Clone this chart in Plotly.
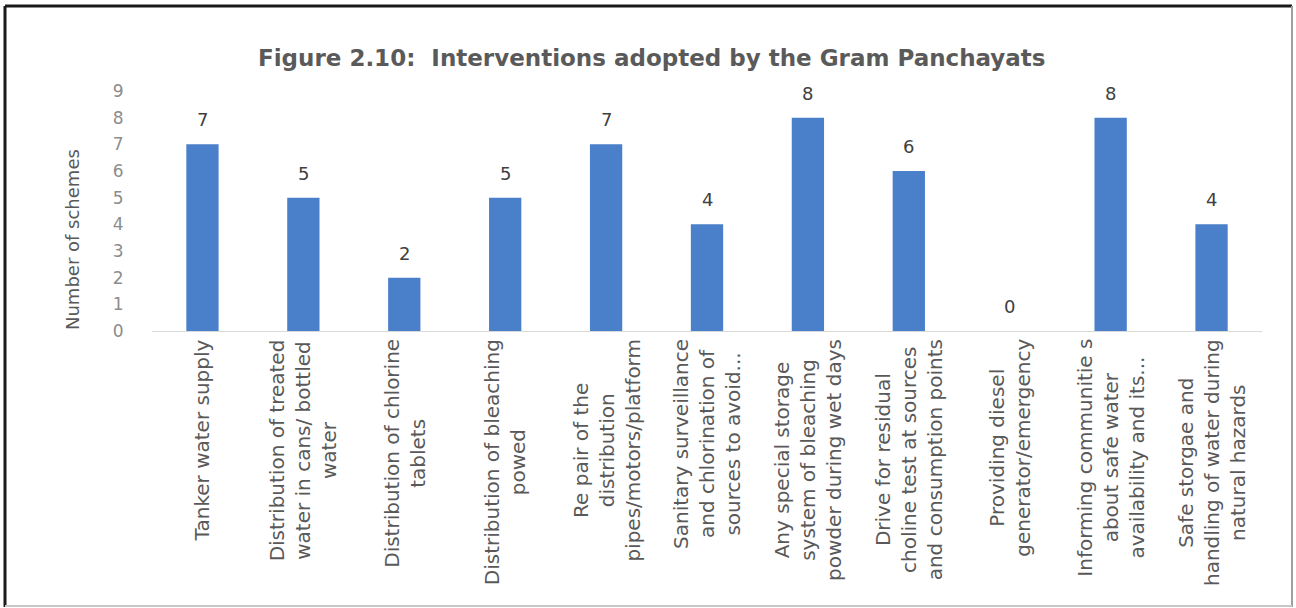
import plotly.graph_objects as go

categories = [
    "Tanker water supply",
    "Distribution of treated<br>water in cans/ bottled<br>water",
    "Distribution of chlorine<br>tablets",
    "Distribution of bleaching<br>powed",
    "Re pair of the<br>distribution<br>pipes/motors/platform",
    "Sanitary surveillance<br>and chlorination of<br>sources to avoid...",
    "Any special storage<br>system of bleaching<br>powder during wet days",
    "Drive for residual<br>choline test at sources<br>and consumption points",
    "Providing diesel<br>generator/emergency",
    "Informing communitie s<br>about safe water<br>availability and its...",
    "Safe storgae and<br>handling of water during<br>natural hazards",
]
values = [7, 5, 2, 5, 7, 4, 8, 6, 0, 8, 4]
y_ticks = list(range(0, 10))

title_text = "Figure 2.10:  Interventions adopted by the Gram Panchayats"
y_title = "Number of schemes"

FONT = "DejaVu Sans"
GRAY = "#595959"

L, R, T, B = 152, 34, 91, 277
W, H = 1296, 608
PLOT_H = H - T - B
PLOT_W = W - L - R


def py(px):
    return (H - B - px) / PLOT_H


def px_(x):
    return (x - L) / PLOT_W


fig = go.Figure()
fig.add_trace(go.Bar(
    x=list(range(len(categories))),
    y=values,
    marker=dict(color="#4A7FC9", line=dict(width=0)),
    width=0.32,
    hoverinfo="skip",
))

annotations = []
for i, (c, v) in enumerate(zip(categories, values)):
    annotations.append(dict(
        x=i, y=v, xref="x", yref="y", text=str(v), showarrow=False,
        yanchor="bottom", yshift=12,
        font=dict(family=FONT, size=18, color="#404040"),
    ))
    annotations.append(dict(
        x=i, y=0, xref="x", yref="y", text=c, showarrow=False,
        textangle=-90, yanchor="top", xanchor="center", yshift=-6,
        align="center",
        font=dict(family=FONT, size=20, color=GRAY),
    ))

annotations.append(dict(
    x=px_(652), y=py(58), xref="paper", yref="paper", text=title_text,
    showarrow=False, yanchor="middle",
    font=dict(family=FONT, size=23, color="#5a5a5a", weight="bold"),
))
annotations.append(dict(
    x=px_(72), y=py(240), xref="paper", yref="paper", text=y_title,
    showarrow=False, textangle=-90, xanchor="center", yanchor="middle",
    font=dict(family=FONT, size=18, color=GRAY),
))

fig.update_layout(
    width=W, height=H,
    margin=dict(l=L, r=R, t=T, b=B),
    paper_bgcolor="white", plot_bgcolor="white",
    showlegend=False,
    annotations=annotations,
    xaxis=dict(
        range=[-0.5, len(categories) - 0.5],
        showticklabels=False, showgrid=False, zeroline=False,
        showline=True, linecolor="#d9d9d9", linewidth=1,
        ticks="", fixedrange=True,
    ),
    yaxis=dict(
        range=[0, 9], tickvals=y_ticks, showgrid=False, zeroline=False,
        showline=False, ticks="outside", ticklen=24, tickcolor="rgba(0,0,0,0)",
        tickfont=dict(family=FONT, size=17, color="#8c8c8c"),
    ),
)

# outer frame
fig.add_shape(type="line", xref="paper", yref="paper", x0=px_(5), x1=px_(5), y0=py(6), y1=py(607),
              line=dict(color="#1a1a1a", width=3))
fig.add_shape(type="line", xref="paper", yref="paper", x0=px_(5), x1=px_(1292), y0=py(6), y1=py(6),
              line=dict(color="#1a1a1a", width=3))
fig.add_shape(type="line", xref="paper", yref="paper", x0=px_(1292), x1=px_(1292), y0=py(6), y1=py(607),
              line=dict(color="#a0a0a0", width=2))
fig.add_shape(type="line", xref="paper", yref="paper", x0=px_(5), x1=px_(1292), y0=py(606), y1=py(606),
              line=dict(color="#c8c8c8", width=2))

fig.write_html("out.html", config={"displayModeBar": False})
